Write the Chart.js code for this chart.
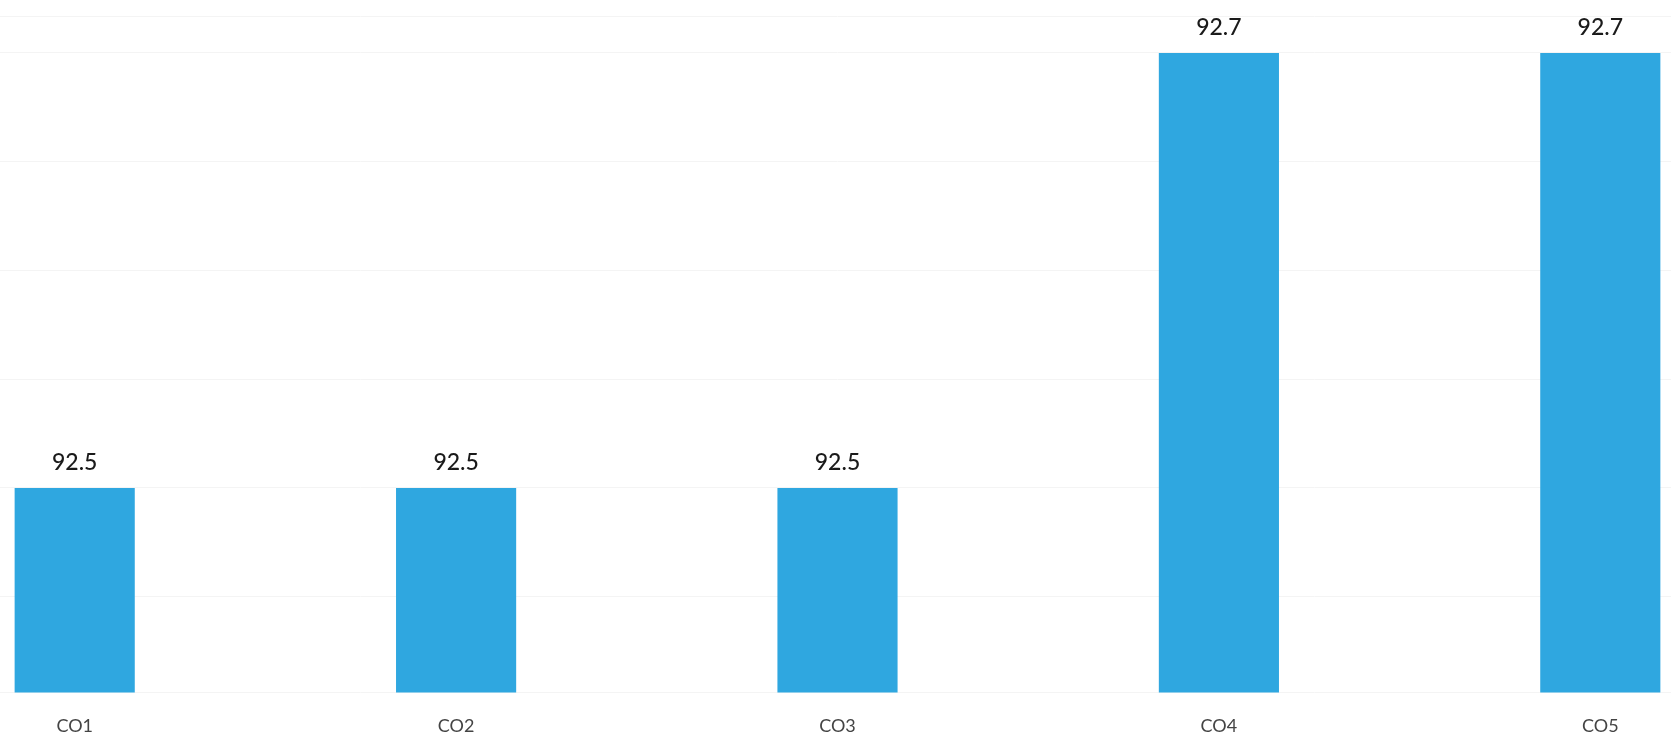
<!DOCTYPE html>
<html>
<head>
<meta charset="utf-8">
<script src="https://cdn.jsdelivr.net/npm/chart.js@4.4.1/dist/chart.umd.min.js"></script>
<style>
    html, body { margin: 0; padding: 0; background: #fff; overflow: hidden; width: 1671px; height: 753px; }
    #wrap { position: absolute; left: -116px; top: 0; width: 1907px; height: 753px; }
</style>
</head>
<body>
<div id="wrap"><canvas id="myChart"></canvas></div>
<script>
        const categories = ['CO1', 'CO2', 'CO3', 'CO4', 'CO5'];
        const values = [92.5, 92.5, 92.5, 92.7, 92.7];
        const yMin = 92.406;
        const yMax = 92.717;

        // write the value above each bar
        const valueLabels = {
            id: 'valueLabels',
            afterDatasetsDraw(chart) {
                const c = chart.ctx;
                const meta = chart.getDatasetMeta(0);
                c.save();
                c.font = '500 23px Lato, "Open Sans", sans-serif';
                c.fillStyle = '#1a1a1a';
                c.textAlign = 'center';
                c.textBaseline = 'bottom';
                meta.data.forEach((bar, i) => {
                    c.fillText(values[i].toFixed(1), bar.x, bar.y - 14);
                });
                c.restore();
            }
        };

        const ctx = document.getElementById('myChart').getContext('2d');
        const myChart = new Chart(ctx, {
            type: 'bar',
            data: {
                labels: categories,
                datasets: [{
                    data: values,
                    backgroundColor: '#2fa7e0',
                    borderWidth: 0,
                    categoryPercentage: 1,
                    barPercentage: 0.315
                }]
            },
            options: {
                responsive: true,
                maintainAspectRatio: false,
                animation: false,
                layout: { padding: { top: 16, bottom: 1 } },
                plugins: {
                    legend: { display: false },
                    tooltip: { enabled: false }
                },
                scales: {
                    x: {
                        grid: { display: false },
                        border: { display: false },
                        ticks: {
                            color: '#444',
                            padding: 15,
                            font: { family: 'Lato, "Open Sans", sans-serif', size: 18 }
                        }
                    },
                    y: {
                        min: yMin,
                        max: yMax,
                        grid: { color: '#f4f4f4', drawTicks: false },
                        border: { display: false },
                        ticks: { display: false, stepSize: 0.05 }
                    }
                }
            },
            plugins: [valueLabels]
        });
</script>
</body>
</html>
